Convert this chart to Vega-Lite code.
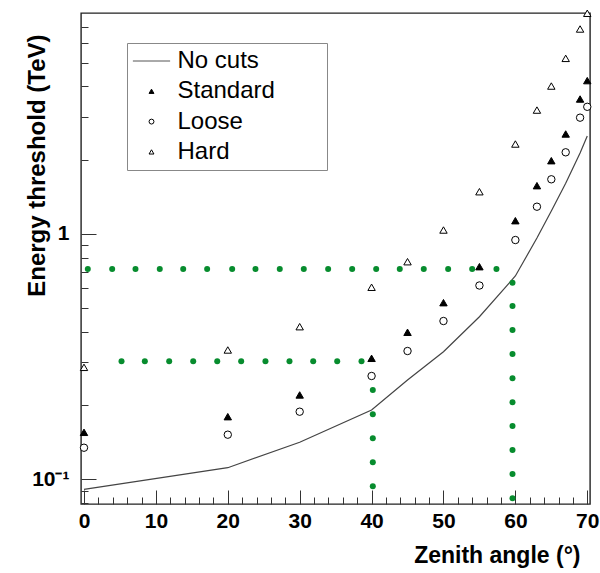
{
  "$schema": "https://vega.github.io/schema/vega-lite/v6.json",
  "width": 509,
  "height": 491,
  "autosize": {"type": "none"},
  "padding": {"left": 81, "top": 13, "right": 10, "bottom": 69},
  "background": "white",
  "config": {
    "font": "Liberation Sans",
    "view": {"stroke": "#222", "strokeWidth": 1.4},
    "axis": {"grid": false, "domain": false, "tickColor": "#333", "tickWidth": 1, "labelColor": "black", "titleColor": "black", "labelFont": "Liberation Sans", "titleFont": "Liberation Sans"},
    "legend": {
      "orient": "none",
      "padding": 6,
      "rowPadding": 6.3,
      "strokeColor": "#888",
      "symbolSize": 24,
      "symbolStrokeWidth": 1,
      "symbolOffset": 6.5,
      "labelOffset": 14,
      "labelFontSize": 24,
      "labelFont": "Liberation Sans",
      "labelColor": "black",
      "labelBaseline": "middle",
      "labelLimit": 400
    }
  },
  "datasets": {
    "nocuts": [
      {"angle": 0, "energy": 0.091},
      {"angle": 20, "energy": 0.1115},
      {"angle": 30, "energy": 0.1415},
      {"angle": 40, "energy": 0.1916},
      {"angle": 45, "energy": 0.254},
      {"angle": 50, "energy": 0.3313},
      {"angle": 55, "energy": 0.46},
      {"angle": 60, "energy": 0.674},
      {"angle": 63, "energy": 0.963},
      {"angle": 65, "energy": 1.24},
      {"angle": 67, "energy": 1.61},
      {"angle": 69, "energy": 2.14},
      {"angle": 70, "energy": 2.51}
    ],
    "points": [
      {"series": "Standard", "angle": 0, "energy": 0.1554},
      {"series": "Standard", "angle": 20, "energy": 0.18},
      {"series": "Standard", "angle": 30, "energy": 0.2207},
      {"series": "Standard", "angle": 40, "energy": 0.3113},
      {"series": "Standard", "angle": 45, "energy": 0.3975},
      {"series": "Standard", "angle": 50, "energy": 0.5248},
      {"series": "Standard", "angle": 55, "energy": 0.7357},
      {"series": "Standard", "angle": 60, "energy": 1.133},
      {"series": "Standard", "angle": 63, "energy": 1.574},
      {"series": "Standard", "angle": 65, "energy": 1.99},
      {"series": "Standard", "angle": 67, "energy": 2.557},
      {"series": "Standard", "angle": 69, "energy": 3.55},
      {"series": "Standard", "angle": 70, "energy": 4.22},
      {"series": "Loose", "angle": 0, "energy": 0.1345},
      {"series": "Loose", "angle": 20, "energy": 0.152},
      {"series": "Loose", "angle": 30, "energy": 0.1886},
      {"series": "Loose", "angle": 40, "energy": 0.2637},
      {"series": "Loose", "angle": 45, "energy": 0.3334},
      {"series": "Loose", "angle": 50, "energy": 0.4418},
      {"series": "Loose", "angle": 55, "energy": 0.6166},
      {"series": "Loose", "angle": 60, "energy": 0.945},
      {"series": "Loose", "angle": 63, "energy": 1.292},
      {"series": "Loose", "angle": 65, "energy": 1.671},
      {"series": "Loose", "angle": 67, "energy": 2.153},
      {"series": "Loose", "angle": 69, "energy": 2.98},
      {"series": "Loose", "angle": 70, "energy": 3.3},
      {"series": "Hard", "angle": 0, "energy": 0.286},
      {"series": "Hard", "angle": 20, "energy": 0.3366},
      {"series": "Hard", "angle": 30, "energy": 0.4189},
      {"series": "Hard", "angle": 40, "energy": 0.6065},
      {"series": "Hard", "angle": 45, "energy": 0.771},
      {"series": "Hard", "angle": 50, "energy": 1.038},
      {"series": "Hard", "angle": 55, "energy": 1.487},
      {"series": "Hard", "angle": 60, "energy": 2.327},
      {"series": "Hard", "angle": 63, "energy": 3.2},
      {"series": "Hard", "angle": 65, "energy": 4.01},
      {"series": "Hard", "angle": 67, "energy": 5.2},
      {"series": "Hard", "angle": 69, "energy": 6.85},
      {"series": "Hard", "angle": 70, "energy": 7.94}
    ],
    "guides": [
      {"angle": 0.53, "energy": 0.72}, {"angle": 3.92, "energy": 0.72}, {"angle": 7.16, "energy": 0.72},
      {"angle": 10.54, "energy": 0.72}, {"angle": 13.8, "energy": 0.72}, {"angle": 17.13, "energy": 0.72},
      {"angle": 20.61, "energy": 0.72}, {"angle": 23.85, "energy": 0.72}, {"angle": 27.23, "energy": 0.72},
      {"angle": 30.57, "energy": 0.72}, {"angle": 33.96, "energy": 0.72}, {"angle": 37.3, "energy": 0.72},
      {"angle": 40.64, "energy": 0.72}, {"angle": 43.92, "energy": 0.72}, {"angle": 47.26, "energy": 0.72},
      {"angle": 50.65, "energy": 0.72}, {"angle": 53.99, "energy": 0.72}, {"angle": 57.37, "energy": 0.72},
      {"angle": 59.6, "energy": 0.633}, {"angle": 59.6, "energy": 0.5086}, {"angle": 59.6, "energy": 0.406},
      {"angle": 59.6, "energy": 0.324}, {"angle": 59.6, "energy": 0.258}, {"angle": 59.6, "energy": 0.206},
      {"angle": 59.6, "energy": 0.1649}, {"angle": 59.6, "energy": 0.1316}, {"angle": 59.6, "energy": 0.1051},
      {"angle": 59.6, "energy": 0.0837},
      {"angle": 5.22, "energy": 0.303}, {"angle": 8.46, "energy": 0.303}, {"angle": 11.85, "energy": 0.303},
      {"angle": 15.19, "energy": 0.303}, {"angle": 18.53, "energy": 0.303}, {"angle": 21.86, "energy": 0.303},
      {"angle": 25.24, "energy": 0.303}, {"angle": 28.58, "energy": 0.303}, {"angle": 31.88, "energy": 0.303},
      {"angle": 35.22, "energy": 0.303}, {"angle": 38.6, "energy": 0.303},
      {"angle": 40.17, "energy": 0.2312}, {"angle": 40.17, "energy": 0.184}, {"angle": 40.17, "energy": 0.1469},
      {"angle": 40.17, "energy": 0.1173}, {"angle": 40.17, "energy": 0.0936}
    ]
  },
  "resolve": {"axis": {"x": "independent", "y": "independent"}},
  "layer": [
    {
      "data": {"name": "nocuts"},
      "mark": {"type": "line", "color": "#444", "strokeWidth": 1.2},
      "encoding": {
        "x": {
          "field": "angle", "type": "quantitative",
          "scale": {"domain": [-0.417, 70.38], "nice": false, "zero": false},
          "axis": {
            "orient": "bottom",
            "values": [0, 10, 20, 30, 40, 50, 60, 70],
            "tickSize": -14,
            "labelPadding": 20,
            "labelFlush": false,
            "labelOverlap": false,
            "labelBound": false,
            "labelFontSize": 21,
            "labelFontWeight": "bold",
            "labelBaseline": "top",
            "title": "Zenith angle (°)",
            "titleFontSize": 23,
            "titleFontWeight": "bold",
            "titleAnchor": null,
            "titleAlign": "right",
            "titleBaseline": "alphabetic",
            "titleX": 499,
            "titleY": 58
          }
        },
        "y": {
          "field": "energy", "type": "quantitative",
          "scale": {"type": "log", "domain": [0.0793, 7.96], "nice": false, "zero": false},
          "axis": {
            "orient": "left",
            "values": [0.1, 1],
            "tickSize": -15,
            "labelPadding": 27,
            "labelFlush": false,
            "labelOverlap": false,
            "labelBound": false,
            "labelExpr": "datum.value == 1 ? '1' : '10⁻¹'",
            "labelFontSize": 21,
            "labelFontWeight": "bold",
            "title": "Energy threshold (TeV)",
            "titleFontSize": 24,
            "titleFontWeight": "bold",
            "titleAngle": -90,
            "titleAnchor": null,
            "titleAlign": "right",
            "titleBaseline": "middle",
            "titleX": -44,
            "titleY": 21
          }
        }
      }
    },
    {
      "data": {"name": "points"},
      "mark": {"type": "point", "filled": true, "size": 55, "strokeWidth": 1, "opacity": 1},
      "encoding": {
        "x": {"field": "angle", "type": "quantitative", "scale": {"domain": [-0.417, 70.38], "nice": false, "zero": false}, "axis": null},
        "y": {"field": "energy", "type": "quantitative", "scale": {"type": "log", "domain": [0.0793, 7.96], "nice": false, "zero": false}, "axis": null},
        "shape": {
          "field": "series", "type": "nominal",
          "scale": {"domain": ["No cuts", "Standard", "Loose", "Hard"], "range": ["M-7.6,0L7.6,0M68,0", "triangle-up", "circle", "triangle-up"]},
          "legend": {"title": null, "legendX": 46, "legendY": 30}
        },
        "fill": {
          "field": "series", "type": "nominal",
          "scale": {"domain": ["No cuts", "Standard", "Loose", "Hard"], "range": ["white", "black", "white", "white"]},
          "legend": {"title": null, "legendX": 46, "legendY": 30}
        },
        "stroke": {
          "field": "series", "type": "nominal",
          "scale": {"domain": ["No cuts", "Standard", "Loose", "Hard"], "range": ["#555", "black", "black", "black"]},
          "legend": {"title": null, "legendX": 46, "legendY": 30}
        }
      }
    },
    {
      "data": {"name": "guides"},
      "mark": {"type": "circle", "color": "#078c2e", "size": 36, "opacity": 1},
      "encoding": {
        "x": {
          "field": "angle", "type": "quantitative",
          "scale": {"domain": [-0.417, 70.38], "nice": false, "zero": false},
          "axis": {"orient": "bottom", "values": [2, 4, 6, 8, 12, 14, 16, 18, 22, 24, 26, 28, 32, 34, 36, 38, 42, 44, 46, 48, 52, 54, 56, 58, 62, 64, 66, 68], "tickSize": -7, "labels": false, "title": null}
        },
        "y": {
          "field": "energy", "type": "quantitative",
          "scale": {"type": "log", "domain": [0.0793, 7.96], "nice": false, "zero": false},
          "axis": {"orient": "left", "values": [0.08, 0.09, 0.2, 0.3, 0.4, 0.5, 0.6, 0.7, 0.8, 0.9, 2, 3, 4, 5, 6, 7], "tickSize": -7, "labels": false, "title": null}
        }
      }
    }
  ]
}
